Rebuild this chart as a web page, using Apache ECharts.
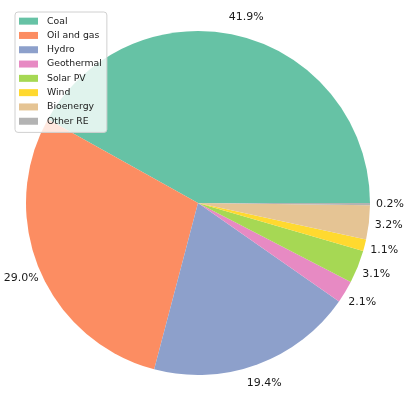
<!DOCTYPE html>
<html>
<head>
<meta charset="utf-8">
<script src="https://cdn.jsdelivr.net/npm/echarts@6/dist/echarts.min.js"></script>
<style>
  html, body { margin: 0; padding: 0; background: #fff; }
  #chart { width: 409px; height: 409px; }
</style>
</head>
<body>
<div id="chart"></div>
<script>
// energy mix shares (%)
var sources = ['Coal', 'Oil and gas', 'Hydro', 'Geothermal', 'Solar PV', 'Wind', 'Bioenergy', 'Other RE'];
var shares = [41.9, 29.0, 19.4, 2.1, 3.1, 1.1, 3.2, 0.2];
var colors = ['#66c2a5', '#fc8d62', '#8da0cb', '#e78ac3', '#a6d854', '#ffd92f', '#e5c494', '#b3b3b3'];

var pieData = sources.map(function (name, i) {
  return { name: name, value: shares[i], itemStyle: { color: colors[i] } };
});
// copy used only to place the % labels just outside the rim
var labelData = sources.map(function (name, i) {
  return { name: name, value: shares[i], itemStyle: { color: 'rgba(0,0,0,0)' } };
});

var chart = echarts.init(document.getElementById('chart'));

var option = {
  animation: false,
  legend: {
    orient: 'vertical',
    left: 15,
    top: 12,
    padding: [4, 5, 6, 4],
    itemWidth: 19,
    itemHeight: 7,
    itemGap: 4,
    backgroundColor: 'rgba(255,255,255,0.8)',
    borderColor: '#d0d0d0',
    borderWidth: 1,
    borderRadius: 3,
    textStyle: { fontFamily: 'DejaVu Sans', fontSize: 9.3, color: '#1a1a1a', lineHeight: 10.3, padding: [0, 0, 0, 4] },
    data: sources.map(function (name, i) {
      return { name: name, icon: 'rect', itemStyle: { color: colors[i] } };
    })
  },
  series: [
    {
      type: 'pie',
      center: [198, 203],
      radius: [0, 172],
      startAngle: 0,
      clockwise: false,
      z: 1,
      silent: true,
      label: { show: false },
      labelLine: { show: false },
      itemStyle: { borderWidth: 0 },
      data: pieData
    },
    {
      type: 'pie',
      center: [198, 203],
      radius: [172, 206],
      startAngle: 0,
      clockwise: false,
      z: 0,
      silent: true,
      minShowLabelAngle: 0,
      label: {
        show: true,
        position: 'inside',
        fontFamily: 'DejaVu Sans',
        fontSize: 11,
        color: '#1a1a1a',
        formatter: function (p) { return p.value.toFixed(1) + '%'; }
      },
      labelLine: { show: false },
      itemStyle: { borderWidth: 0 },
      data: labelData
    }
  ]
};

chart.setOption(option);
</script>
</body>
</html>
